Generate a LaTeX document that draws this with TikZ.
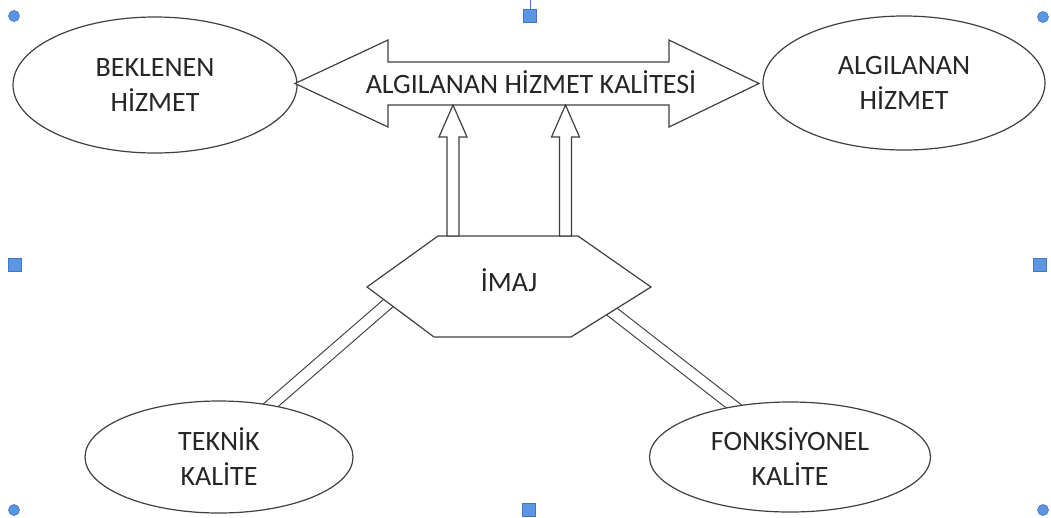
\documentclass[tikz,border=0pt]{standalone}
\usepackage{fontspec}
\setmainfont{Carlito}
\usetikzlibrary{shapes.geometric,calc,backgrounds}
\definecolor{handlefill}{RGB}{91,150,226}
\definecolor{handleedge}{RGB}{68,114,196}
\tikzset{
  outline/.style={draw=black!75, line width=1.2pt},
  oval/.style={outline, ellipse, fill=white, inner sep=0pt, align=center,
    font=\fontsize{28}{35}\selectfont, text=black!85},
  label/.style={font=\fontsize{28}{35}\selectfont, text=black!85, inner sep=0pt},
  twin/.style={draw=black!75, line width=1.1pt, double=white, double distance=10.5pt,
    shorten <=-6pt, shorten >=-10pt},
  handle/.style={fill=handlefill, draw=handleedge, line width=0.6pt}
}
\begin{document}
\begin{tikzpicture}[x=1pt,y=-1pt]
\useasboundingbox (0,0) rectangle (1051,517);

% ellipses
\node[oval, minimum width=284pt, minimum height=136pt] (beklenen)  at (155,85)  {BEKLENEN\\HİZMET};
\node[oval, minimum width=282pt, minimum height=134pt] (algilanan) at (904,83)  {ALGILANAN\\HİZMET};
\node[oval, minimum width=268pt, minimum height=112pt] (teknik)    at (219,457) {TEKNİK\\KALİTE};
\node[oval, minimum width=281pt, minimum height=110pt] (fonk)      at (790,457) {FONKSİYONEL\\KALİTE};

% double arrow
\draw[outline, fill=white] (295,83.5) -- (388,40) -- (388,62) -- (669,62) -- (669,40) -- (759,83.5)
  -- (669,127) -- (669,105) -- (388,105) -- (388,127) -- cycle;
\node[label] (ahk) at (531,82) {ALGILANAN HİZMET KALİTESİ};

% hexagon
\coordinate (h1) at (438,236);
\coordinate (h2) at (578,236);
\coordinate (h3) at (651,287);
\coordinate (h4) at (571,337);
\coordinate (h5) at (434,337);
\coordinate (h6) at (367,287);
\draw[outline, fill=white] (h1) -- (h2) -- (h3) -- (h4) -- (h5) -- (h6) -- cycle;
\node[label] (imaj) at (509,280) {İMAJ};

% up arrows
\foreach \ax in {453,565.5}
  \draw[outline, fill=white] (\ax-6,236) -- (\ax-6,137) -- (\ax-14,137) -- (\ax,105)
    -- (\ax+14,137) -- (\ax+6,137) -- (\ax+6,236) -- cycle;

% double lines
\begin{scope}[on background layer]
\draw[twin] ($(h6)!0.32!(h5)$) -- (teknik.45);
\draw[twin] ($(h3)!0.49!(h4)$) -- (fonk.138);
\end{scope}

% handles
\foreach \hx/\hy in {14/16, 1043/17, 14/510, 1043/510}
  \draw[handle] (\hx,\hy) circle (5.5pt);
\draw[handleedge, line width=1pt] (530,0) -- (530,9.5);
\foreach \hx/\hy in {530/16, 15/265, 1040/265, 529/510}
  \draw[handle] (\hx,\hy) +(-6.5,-6.5) rectangle +(6.5,6.5);

\end{tikzpicture}
\end{document}
